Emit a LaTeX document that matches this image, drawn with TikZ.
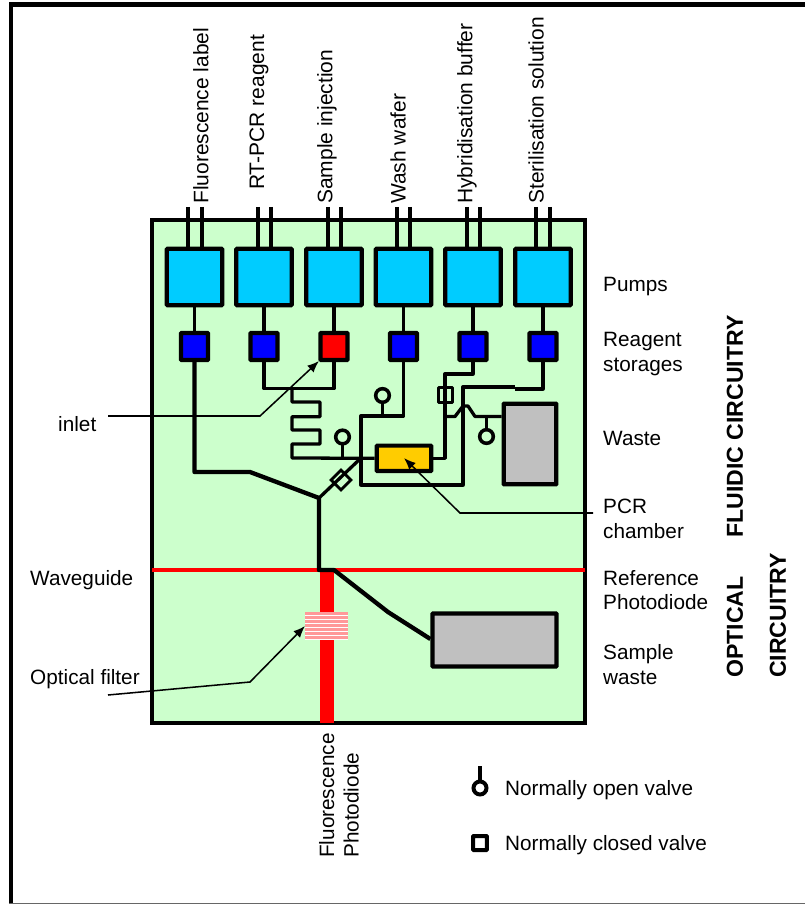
\documentclass[tikz,border=0pt]{standalone}
\usepackage{fontspec}
\setmainfont{Liberation Sans}
\usepackage{xcolor}
\usepackage{tikz}
\usetikzlibrary{arrows.meta}
\definecolor{chipgreen}{RGB}{204, 255, 204}
\definecolor{pumpblue}{RGB}{0, 204, 255}
\definecolor{storeblue}{RGB}{0, 0, 255}
\definecolor{pcryellow}{RGB}{255, 204, 0}
\definecolor{wastegray}{RGB}{192, 192, 192}
\definecolor{filterpink}{RGB}{255, 153, 153}
\tikzset{
  lbl/.style={inner sep=0pt, font=\fontsize{17.7}{20.9}\selectfont, align=left},
  toplbl/.style={lbl, rotate=90, anchor=west, font=\fontsize{17.9}{20.9}\selectfont},
  sidelbl/.style={lbl, anchor=west},
  boldlbl/.style={lbl, rotate=90, anchor=west, font=\fontsize{19.7}{21}\selectfont\bfseries},
  pumpbox/.style={draw, line width=3.6pt, fill=pumpblue, minimum width=1.66cm, minimum height=1.69cm, inner sep=0pt, rounded corners=0.5pt},
  storebox/.style={draw, line width=3.6pt, fill=storeblue, minimum width=0.81cm, minimum height=0.81cm, inner sep=0pt, rounded corners=0.5pt},
  wastebox/.style={draw, line width=3.6pt, fill=wastegray, inner sep=0pt, rounded corners=0.5pt},
  openvalve/.style={draw, circle, line width=3pt, fill=chipgreen, minimum size=0.41cm, inner sep=0pt},
  closedvalve/.style={draw, line width=2.4pt, fill=chipgreen, inner sep=0pt, rounded corners=0.5pt},
  channel/.style={line width=2.8pt, line join=round},
  mainchannel/.style={line width=3.7pt, line join=round},
  pipe/.style={line width=3.8pt},
  leader/.style={line width=1.3pt, -{Latex[length=10pt, width=8pt]}}
}
\begin{document}
\begin{tikzpicture}[x=0.03cm, y=-0.03cm]
\useasboundingbox (0,0) rectangle (805,904);
\fill[black] (9,2.5) rectangle (805,7);
\fill[black] (9,2.5) rectangle (13,904);
\fill[black!60] (9,903) rectangle (805,904);
\draw[line width=3.2pt, fill=chipgreen] (152,220) rectangle (585,723);
\draw[red, line width=3.4pt] (152,570) -- (585,570);
\fill[red] (320,570) rectangle (334,723);
\fill[white] (305,612) rectangle (348,640);
\fill[filterpink] (305,612) rectangle (348,615);
\fill[filterpink] (305,616) rectangle (348,619);
\fill[filterpink] (305,620) rectangle (348,623);
\fill[filterpink] (305,624) rectangle (348,627);
\fill[filterpink] (305,628) rectangle (348,631);
\fill[filterpink] (305,632) rectangle (348,635);
\fill[filterpink] (305,636) rectangle (348,639);

\node[pumpbox] (pumpa) at (194.5,277) {};
\node[pumpbox] (pumpb) at (264,277) {};
\node[pumpbox] (pumpc) at (334,277) {};
\node[pumpbox] (pumpd) at (403.5,277) {};
\node[pumpbox] (pumpe) at (473,277) {};
\node[pumpbox] (pumpf) at (543,277) {};
\node[storebox] (storea) at (194.5,346.5) {};
\node[storebox] (storeb) at (264,346.5) {};
\node[storebox, fill=red] (storec) at (334,346.5) {};
\node[storebox] (stored) at (403.5,346.5) {};
\node[storebox] (storee) at (473,346.5) {};
\node[storebox] (storef) at (543,346.5) {};
\node[draw, line width=3.6pt, fill=pcryellow, minimum width=1.63cm, minimum height=0.76cm, inner sep=0pt, rounded corners=0.5pt] (pcr) at (404,458.3) {};
\node[wastebox, minimum width=1.58cm, minimum height=2.42cm] (waste) at (530,444) {};
\node[wastebox, minimum width=3.72cm, minimum height=1.59cm] (samplewaste) at (494.5,640) {};

\coordinate (pipeal) at (188,207);
\coordinate (pipear) at (202,207);
\coordinate (pipebl) at (258,207);
\coordinate (pipebr) at (271,207);
\coordinate (pipecl) at (328,207);
\coordinate (pipecr) at (341,207);
\coordinate (pipedl) at (397,207);
\coordinate (pipedr) at (410,207);
\coordinate (pipeel) at (467,207);
\coordinate (pipeer) at (480,207);
\coordinate (pipefl) at (536,207);
\coordinate (pipefr) at (550,207);
\draw[pipe] (pipeal) -- (pipeal |- pumpa.north);
\draw[pipe] (pipear) -- (pipear |- pumpa.north);
\draw[pipe] (pipebl) -- (pipebl |- pumpb.north);
\draw[pipe] (pipebr) -- (pipebr |- pumpb.north);
\draw[pipe] (pipecl) -- (pipecl |- pumpc.north);
\draw[pipe] (pipecr) -- (pipecr |- pumpc.north);
\draw[pipe] (pipedl) -- (pipedl |- pumpd.north);
\draw[pipe] (pipedr) -- (pipedr |- pumpd.north);
\draw[pipe] (pipeel) -- (pipeel |- pumpe.north);
\draw[pipe] (pipeer) -- (pipeer |- pumpe.north);
\draw[pipe] (pipefl) -- (pipefl |- pumpf.north);
\draw[pipe] (pipefr) -- (pipefr |- pumpf.north);

\draw[channel] (pumpa.south) -- (storea.north);
\draw[channel] (pumpb.south) -- (storeb.north);
\draw[channel] (pumpc.south) -- (storec.north);
\draw[channel] (pumpd.south) -- (stored.north);
\draw[channel] (pumpe.south) -- (storee.north);
\draw[channel] (pumpf.south) -- (storef.north);

\coordinate (bendin) at (264,388.5);
\coordinate (serpin) at (292,388.5);
\coordinate (mainbend) at (250,472);
\coordinate (mainjoin) at (319,498);
\coordinate (valvein) at (361,458);
\coordinate (washbend) at (361,416);
\coordinate (washjoin) at (382.5,416);
\coordinate (samplejoin) at (342.5,458);
\coordinate (wastejoin) at (486.5,416);
\coordinate (crossa) at (445,416.5);
\coordinate (lowbend) at (463,485);
\coordinate (topbend) at (515,387);
\coordinate (rightbend) at (515,389);
\coordinate (hybbend) at (445,374);
\coordinate (waveleft) at (319,570);
\coordinate (waveright) at (334,570);
\coordinate (samplebend) at (388,612);

\node[draw, line width=2.4pt, fill=chipgreen, minimum width=0.42cm, minimum height=0.42cm, inner sep=0pt, rotate=45] (valvemain) at (341,480) {};
\node[closedvalve, minimum width=0.42cm, minimum height=0.45cm] (valvehyb) at (445.5,395) {};

\draw[channel] (storeb.south) |- (bendin) -- (serpin) -| (storec.south);
\draw[channel] (serpin) -- (292,402) -- (320,402) -- (320,416.7) -- (292,416.7) -- (292,430) -- (320,430) -- (320,444) -- (292,444) -- (292,458) -- (pcr.west);
\draw[mainchannel] (storea.south) |- (mainbend) -- (mainjoin) -- (waveleft) -- (waveright) -- (samplebend) -- (samplewaste.west |- 0,639);
\draw[channel] (mainjoin) -- (valvein);
\draw[channel] (stored.south) |- (washbend) -- (lowbend -| washbend) -- (lowbend) |- (topbend);
\draw[channel] (storef.south) |- (rightbend);
\draw[channel] (storee.south) |- (hybbend) |- (pcr.east);
\draw[channel] (crossa) -- (455,416.5) -- (463,406) -- (468,406) -- (475,416.5) -- (waste.west |- crossa);
\draw[channel] (samplejoin) -- (342.5,437);
\draw[channel] (washjoin) -- (382.5,395.5);
\draw[channel] (wastejoin) -- (486.5,436.5);

\node[openvalve] (valvesample) at (342.5,437) {};
\node[openvalve] (valvewash) at (382.5,395.5) {};
\node[openvalve] (valvewaste) at (486.5,436.5) {};

\coordinate (inleta) at (108,416);
\coordinate (inletb) at (260,416);
\coordinate (inlettip) at (319,361);
\coordinate (pcra) at (593,513);
\coordinate (pcrb) at (460,513);
\coordinate (pcrtip) at (404,458);
\coordinate (filtera) at (108,695);
\coordinate (filterb) at (250,682);
\coordinate (filtertip) at (305,626);
\draw[leader] (inleta) -- (inletb) -- (inlettip);
\draw[leader] (pcra) -- (pcrb) -- (pcrtip);
\draw[leader] (filtera) -- (filterb) -- (filtertip);

\node[toplbl] (lfluor) at (201,204) {Fluorescence label};
\node[toplbl] (lrtpcr) at (259,190) {RT-PCR reagent};
\node[toplbl] (lsample) at (327,204) {Sample injection};
\node[toplbl] (lwash) at (398,204) {Wash wafer};
\node[toplbl] (lhyb) at (467,204) {Hybridisation buffer};
\node[toplbl] (lster) at (536,204) {Sterilisation solution};
\node[sidelbl] (lpumps) at (603,287) {Pumps};
\node[sidelbl] (lstor) at (603,354) {Reagent\\storages};
\node[sidelbl] (lwaste) at (603,438) {Waste};
\node[sidelbl] (lpcr) at (603,519) {PCR\\chamber};
\node[sidelbl] (lref) at (603,590) {Reference\\Photodiode};
\node[sidelbl] (lsw) at (603,664.5) {Sample\\waste};
\node[sidelbl] (linlet) at (58,424) {inlet};
\node[sidelbl] (lguide) at (30,580) {Waveguide};
\node[sidelbl] (lfilter) at (30,679) {Optical filter};
\node[lbl, rotate=90, anchor=west] (lfluo) at (339,858) {Fluorescence\\Photodiode};
\node[boldlbl] (lfluid) at (735,538) {FLUIDIC CIRCUITRY};
\node[boldlbl] (lopt) at (735,678) {OPTICAL};
\node[boldlbl] (lcirc) at (778,678) {CIRCUITRY};

\coordinate (keytop) at (480,766);
\draw[line width=3.4pt] (keytop) -- (480,788);
\node[openvalve, fill=white, line width=3.4pt, minimum size=0.39cm] (keyopen) at (480,788) {};
\node[closedvalve, fill=white, line width=3.4pt, minimum width=0.41cm, minimum height=0.42cm] (keyclosed) at (480,843) {};
\node[sidelbl] (lopen) at (505,790) {Normally open valve};
\node[sidelbl] (lclosed) at (505,845) {Normally closed valve};
\end{tikzpicture}
\end{document}
